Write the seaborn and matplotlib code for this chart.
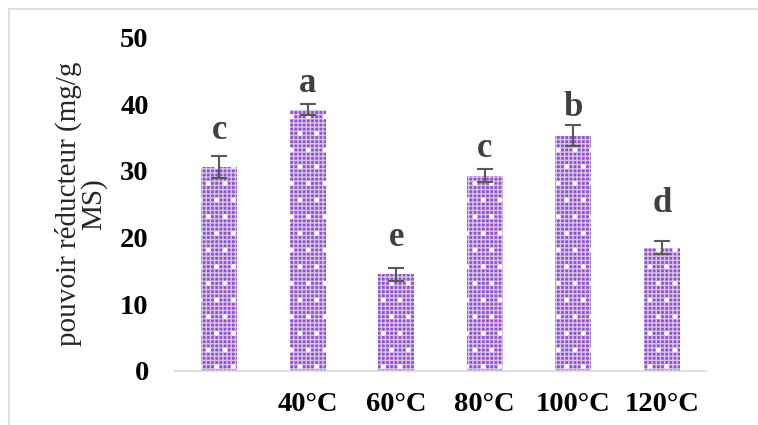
import numpy as np
import pandas as pd
import matplotlib
matplotlib.use("Agg")
import matplotlib.pyplot as plt
from matplotlib.patches import Rectangle
from matplotlib.lines import Line2D
import seaborn as sns

# ---- data ----
categories = ["", "40°C", "60°C", "80°C", "100°C", "120°C"]
values = [30.6, 39.2, 14.5, 29.3, 35.3, 18.5]
errors = [1.6, 0.8, 1.0, 1.0, 1.6, 0.95]
letters = ["c", "a", "e", "c", "b", "d"]
letter_y = [34.8, 41.9, 18.7, 32.1, 38.2, 23.8]
y_ticks = [0, 10, 20, 30, 40, 50]
y_label = "pouvoir réducteur (mg/g\nMS)"

sns.set_style("white")
plt.rcParams["font.family"] = ["Liberation Serif", "DejaVu Serif"]
plt.rcParams["hatch.linewidth"] = 1.0

df = pd.DataFrame({"cat": categories, "val": values})

fig = plt.figure(figsize=(7.58, 4.25), dpi=100)
ax = fig.add_axes([0.2309, 0.1271, 0.7005, 0.7847])

sns.barplot(data=df, x="cat", y="val", order=categories, color="#9150c4",
            width=0.41, errorbar=None, ax=ax, linewidth=0,
            edgecolor="#d6c3ec", hatch="++++", saturation=1)

centers = []
for p in ax.patches:
    p.set_linewidth(0)
    centers.append(p.get_x() + p.get_width() / 2)
    ov = Rectangle(p.get_xy(), p.get_width(), p.get_height(), facecolor="none",
                   edgecolor="white", linewidth=0, hatch=".", zorder=p.get_zorder() + 0.1)
    ax.add_patch(ov)

ax.errorbar(centers, values, yerr=errors, fmt="none", ecolor="#595959",
            elinewidth=1.5, capsize=6, capthick=1.5, zorder=5)

for xc, lab, ly in zip(centers, letters, letter_y):
    ax.text(xc, ly, lab, ha="center", va="baseline", fontsize=25,
            fontweight="bold", color="#404040")

ax.set_ylim(0, 50)
ax.set_xlim(-0.5, len(categories) - 0.5)
ax.set_yticks(y_ticks)
ax.set_yticklabels([str(t) for t in y_ticks])
ax.set_xlabel("")
ax.set_ylabel(y_label, fontsize=21, linespacing=0.92, labelpad=9)
ax.tick_params(axis="both", length=0, labelsize=20.5)
ax.tick_params(axis="y", pad=19)
ax.tick_params(axis="x", pad=15)
for lbl in ax.get_xticklabels() + ax.get_yticklabels():
    lbl.set_fontweight("bold")
    lbl.set_color("black")

for s in ["top", "right", "left"]:
    ax.spines[s].set_visible(False)
ax.spines["bottom"].set_color("#d9d9d9")
ax.spines["bottom"].set_linewidth(1.2)

# outer frame (top and left edges visible in reference)
fig.add_artist(Line2D([9 / 758, 1], [1 - 9 / 425, 1 - 9 / 425], color="#d9d9d9", lw=1.2))
fig.add_artist(Line2D([9 / 758, 9 / 758], [0, 1 - 9 / 425], color="#d9d9d9", lw=1.2))

fig.savefig("out.png", dpi=100)
